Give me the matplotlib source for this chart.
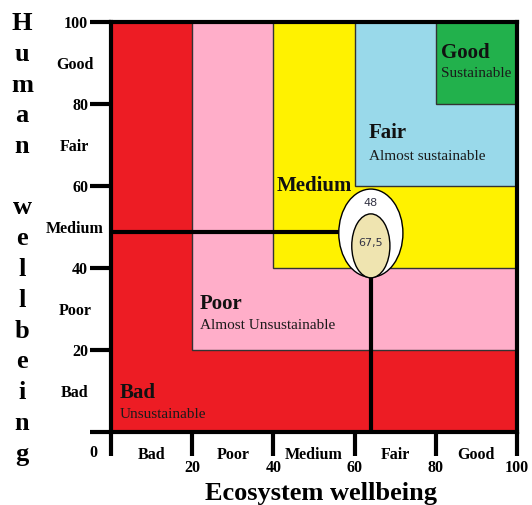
import matplotlib
matplotlib.use("Agg")
import matplotlib.pyplot as plt
from matplotlib.patches import Rectangle, Ellipse

# data
ZONE_START = [0, 20, 40, 60, 80]
ZONE_NAMES = ["Bad", "Poor", "Medium", "Fair", "Good"]
ZONE_NOTES = ["Unsustainable", "Almost Unsustainable", "", "Almost sustainable", "Sustainable"]
ZONE_COLORS = ["#ED1C24", "#FFAEC9", "#FFF200", "#99D9EA", "#22B14C"]

TICKS = [0, 20, 40, 60, 80, 100]
CAT_POS = [10, 30, 50, 70, 90]

ECO_SCORE = 64
HUMAN_SCORE = 48.7
OUTER_TEXT = "48"
INNER_TEXT = "67,5"

# layout
NAME_XY = [(2.2, 8.3), (21.9, 30.0), (40.9, 58.8), (63.5, 71.7), (81.3, 91.2)]
NOTE_XY = [(2.2, 3.4), (21.9, 25.1), None, (63.5, 66.3), (81.3, 86.6)]
SERIF = "Liberation Serif"
W, H = 532, 505

fig = plt.figure(figsize=(W / 100, H / 100), dpi=100)
ax = fig.add_axes([111 / W, (H - 432) / H, 406 / W, 410 / H])
ax.set_xlim(0, 100)
ax.set_ylim(0, 100)

for x0, col in zip(ZONE_START, ZONE_COLORS):
    ax.add_patch(Rectangle((x0, x0), 100 - x0, 100 - x0, facecolor=col,
                           edgecolor="#333333", lw=1, zorder=1))

for (nx, ny), nt, name in zip(NAME_XY, ZONE_NOTES, ZONE_NAMES):
    ax.text(nx, ny, name, family=SERIF, fontweight="bold", fontsize=15,
            color="#111111", va="baseline", ha="left", zorder=3)
for xy, note in zip(NOTE_XY, ZONE_NOTES):
    if xy is None:
        continue
    ax.text(xy[0], xy[1], note, family=SERIF, fontsize=11,
            color="#1a1a1a", va="baseline", ha="left", zorder=3)

# score lines
ax.plot([0, ECO_SCORE], [HUMAN_SCORE, HUMAN_SCORE], color="black", lw=3, zorder=4,
        solid_capstyle="butt")
ax.plot([ECO_SCORE, ECO_SCORE], [0, HUMAN_SCORE], color="black", lw=3, zorder=4,
        solid_capstyle="butt")

ax.add_patch(Ellipse((ECO_SCORE, 48.5), 15.8, 21.5, facecolor="white",
                     edgecolor="black", lw=1, zorder=5))
ax.add_patch(Ellipse((ECO_SCORE, 45.4), 9.4, 15.6, facecolor="#EFE4B0",
                     edgecolor="black", lw=1, zorder=6))
ax.text(ECO_SCORE, 55.9, OUTER_TEXT, fontsize=8, color="#333344",
        ha="center", va="center", zorder=7)
ax.text(ECO_SCORE, 46.1, INNER_TEXT, fontsize=8, color="#333344",
        ha="center", va="center", zorder=7)

for s in ax.spines.values():
    s.set_linewidth(3)
    s.set_zorder(8)

ax.set_xticks(TICKS)
ax.set_xticklabels([""] + [str(t) for t in TICKS[1:]])
ax.set_yticks(TICKS)
ax.set_yticklabels([""] + [str(t) for t in TICKS[1:]])
ax.set_xticks(CAT_POS, minor=True)
ax.set_xticklabels(ZONE_NAMES, minor=True)
ax.set_yticks(CAT_POS, minor=True)
ax.set_yticklabels(ZONE_NAMES, minor=True)

ax.tick_params(axis="x", which="major", length=17, width=3, pad=3, direction="out")
ax.tick_params(axis="y", which="major", length=15, width=3, pad=1.5, direction="out")
ax.tick_params(axis="x", which="minor", length=0, pad=11)
ax.tick_params(axis="y", which="minor", length=0, pad=26)
for lab in ax.get_xticklabels(which="both") + ax.get_yticklabels(which="both"):
    lab.set_family(SERIF)
    lab.set_fontweight("bold")
    lab.set_fontsize(11.5)
for lab in ax.get_yticklabels(which="minor"):
    lab.set_ha("center")

ax.annotate("0", xy=(0, 0), xytext=(-18, -21), textcoords="offset pixels",
            family=SERIF, fontweight="bold", fontsize=11.5, ha="center", va="center")

fig.text(321 / W, (H - 500) / H, "Ecosystem wellbeing", family=SERIF,
         fontweight="bold", fontsize=19, ha="center", va="baseline")

for i, ch in enumerate("Human wellbeing"):
    if ch == " ":
        continue
    fig.text(22 / W, (H - (30 + i * 30.75)) / H, ch, family=SERIF,
             fontweight="bold", fontsize=19, ha="center", va="baseline")

fig.savefig("out.png", dpi=100)
